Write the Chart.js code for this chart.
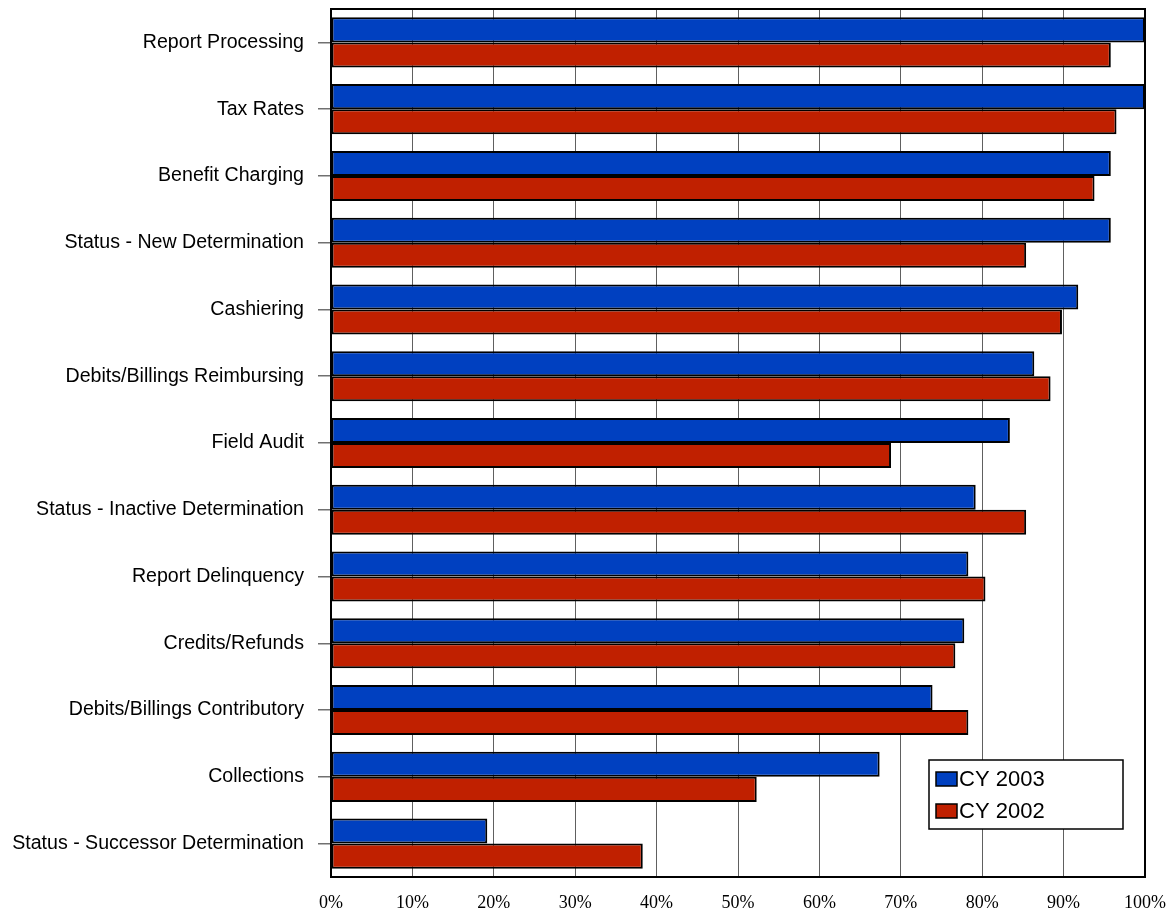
<!DOCTYPE html>
<html><head><meta charset="utf-8">
<script src="https://cdn.jsdelivr.net/npm/chart.js@4/dist/chart.umd.min.js"></script>
<style>html,body{margin:0;padding:0;background:#fff}#wrap{width:1171px;height:912px}</style>
</head><body><div id="wrap"><canvas id="c" width="1171" height="912"></canvas></div>
<script>
const categories = ["Report Processing","Tax Rates","Benefit Charging","Status - New Determination","Cashiering","Debits/Billings Reimbursing","Field Audit","Status - Inactive Determination","Report Delinquency","Credits/Refunds","Debits/Billings Contributory","Collections","Status - Successor Determination"];
const cy2003 = [100,100,95.8,95.8,91.8,86.4,83.4,79.2,78.3,77.8,73.9,67.4,19.2];
const cy2002 = [95.8,96.5,93.8,85.4,89.8,88.4,68.8,85.4,80.4,76.7,78.3,52.3,38.3];
const seriesLabels = ["CY 2003","CY 2002"];
const xTicks = [0,10,20,30,40,50,60,70,80,90,100];

const BLUE = "rgb(0,64,192)", RED = "rgb(192,32,0)";

const frame = {
  id:'frame',
  afterDraw(chart){
    const {ctx, chartArea:a} = chart;
    ctx.save();
    ctx.strokeStyle = '#000'; ctx.lineWidth = 2;
    ctx.strokeRect(a.left, a.top, a.right-a.left, a.bottom-a.top);
    const lx = 929, ly = 760, lw = 194, lh = 69;
    ctx.fillStyle = '#fff'; ctx.fillRect(lx,ly,lw,lh);
    ctx.lineWidth = 1.5; ctx.strokeRect(lx,ly,lw,lh);
    ctx.font = '22px "Liberation Sans", Arial, sans-serif';
    ctx.textBaseline = 'middle'; ctx.textAlign = 'left';
    chart.data.datasets.forEach((ds,i)=>{
      const cy = ly + 19 + i*32;
      ctx.fillStyle = ds.backgroundColor;
      ctx.fillRect(lx+7, cy-7, 21, 14);
      ctx.strokeStyle = '#000'; ctx.lineWidth = 1.5;
      ctx.strokeRect(lx+7, cy-7, 21, 14);
      ctx.fillStyle = '#000';
      ctx.fillText(ds.label, lx+30, cy+1);
    });
    ctx.restore();
  }
};

new Chart(document.getElementById('c'), {
  type:'bar',
  data:{
    labels: categories,
    datasets:[
      {label: seriesLabels[0], data: cy2003, backgroundColor: BLUE, borderColor:'#000', borderWidth:2, borderSkipped:false},
      {label: seriesLabels[1], data: cy2002, backgroundColor: RED, borderColor:'#000', borderWidth:2, borderSkipped:false}
    ]
  },
  options:{
    indexAxis:'y',
    responsive:false,
    animation:false,
    categoryPercentage:0.75,
    barPercentage:1.0,
    layout:{padding:{top:9,right:26,left:0,bottom:0}},
    plugins:{legend:{display:false}, tooltip:{enabled:false}},
    scales:{
      x:{
        min:0,max:100,
        afterBuildTicks(s){ s.ticks = xTicks.map(v=>({value:v})); },
        afterFit(s){ s.height = 912-877; s.paddingLeft = 0; s.paddingRight = 0; },
        grid:{color:'#606060', lineWidth:1, drawTicks:false},
        border:{display:false},
        ticks:{callback:v=>v+'%', color:'#000', padding:15, maxRotation:0, font:{family:'"Liberation Serif", "Times New Roman", serif', size:18}}
      },
      y:{
        afterFit(s){ s.width = 331; s.paddingTop = 0; s.paddingBottom = 0; },
        grid:{offset:false, drawOnChartArea:false, tickLength:13, color:'#707070', lineWidth:1.5},
        border:{display:false},
        ticks:{color:'#000', padding:14, font:{family:'"Liberation Sans", Arial, sans-serif', size:19.6}}
      }
    }
  },
  plugins:[frame]
});
</script></body></html>
